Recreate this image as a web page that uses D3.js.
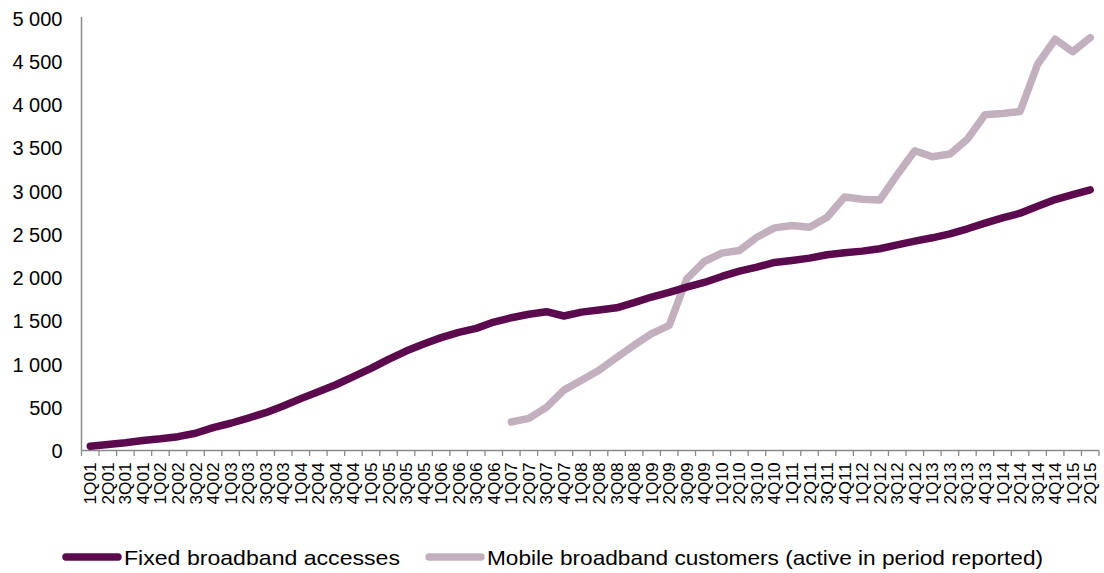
<!DOCTYPE html>
<html>
<head>
<meta charset="utf-8">
<script src="https://cdn.jsdelivr.net/npm/d3@7"></script>
<style>
  html, body { margin: 0; padding: 0; background: #ffffff; }
  svg { display: block; font-family: "Liberation Sans", Arial, sans-serif; }
</style>
</head>
<body>
<svg id="chart" width="1104" height="573"></svg>
<script>
const quarters = [
  "1Q01","2Q01","3Q01","4Q01","1Q02","2Q02","3Q02","4Q02",
  "1Q03","2Q03","3Q03","4Q03","1Q04","2Q04","3Q04","4Q04",
  "1Q05","2Q05","3Q05","4Q05","1Q06","2Q06","3Q06","4Q06",
  "1Q07","2Q07","3Q07","4Q07","1Q08","2Q08","3Q08","4Q08",
  "1Q09","2Q09","3Q09","4Q09","1Q10","2Q10","3Q10","4Q10",
  "1Q11","2Q11","3Q11","4Q11","1Q12","2Q12","3Q12","4Q12",
  "1Q13","2Q13","3Q13","4Q13","1Q14","2Q14","3Q14","4Q14",
  "1Q15","2Q15"
];

const fixedBroadband = [
  50, 70, 90, 115, 135, 160, 200, 265,
  315, 375, 437, 515, 600, 680, 760, 853,
  950, 1054, 1150, 1231, 1305, 1366, 1412, 1485,
  1535, 1575, 1605, 1555, 1600, 1625, 1650, 1709,
  1774, 1828, 1889, 1943, 2012, 2073, 2120, 2174,
  2197, 2224, 2263, 2285, 2305, 2332, 2378, 2420,
  2459, 2505, 2563, 2628, 2690, 2743, 2824, 2901,
  2959, 3013
];

const mobileBroadband = [
  null, null, null, null, null, null, null, null,
  null, null, null, null, null, null, null, null,
  null, null, null, null, null, null, null, null,
  330, 371, 498, 698, 813, 928, 1075, 1217,
  1352, 1447, 1985, 2185, 2282, 2312, 2466, 2574,
  2601, 2582, 2697, 2930, 2905, 2895, 3188, 3465,
  3396, 3427, 3600, 3881, 3896, 3919, 4465, 4754,
  4610, 4773
];

const yTicks = [0, 500, 1000, 1500, 2000, 2500, 3000, 3500, 4000, 4500, 5000];

const seriesNames = ["Fixed broadband accesses", "Mobile broadband customers (active in period reported)"];
const seriesColors = ["#5c0a4e", "#c3b0bf"];

const svg = d3.select("#chart");
const plotLeft = 81.5, plotRight = 1099, plotTop = 18, plotBottom = 450.5;

const x = d3.scaleBand().domain(quarters).range([plotLeft, plotRight]).paddingInner(0).paddingOuter(0);
const y = d3.scaleLinear().domain([0, 5000]).range([plotBottom, plotTop]);

const axisColor = "#8a8a8a";

// Y axis (line only, labels on the left)
const yAxis = svg.append("g")
  .attr("transform", `translate(${plotLeft},0)`)
  .call(d3.axisLeft(y).tickValues(yTicks).tickSize(0).tickPadding(19)
    .tickFormat(d => d3.format(",")(d).replace(/,/g, " ")));
yAxis.select(".domain").attr("stroke", axisColor).attr("stroke-width", 1.5).attr("d", `M0,${plotTop - 1}V${plotBottom}`);
yAxis.selectAll("text").attr("font-size", 20).attr("fill", "#000").attr("font-family", "'Liberation Sans', Arial, sans-serif").attr("dy", "0.36em");

// X axis: line and boundary ticks
const xAxis = svg.append("g").attr("transform", `translate(0,${plotBottom})`);
xAxis.append("line").attr("x1", plotLeft).attr("x2", plotRight).attr("y1", 0).attr("y2", 0)
  .attr("stroke", axisColor).attr("stroke-width", 1.5);
const bounds = quarters.map(q => x(q)).concat([x(quarters[quarters.length - 1]) + x.bandwidth()]);
xAxis.selectAll("line.tk").data(bounds).enter().append("line").attr("class", "tk")
  .attr("x1", d => d).attr("x2", d => d).attr("y1", 0).attr("y2", 5.5)
  .attr("stroke", axisColor).attr("stroke-width", 1.3);
xAxis.selectAll("text").data(quarters).enter().append("text")
  .attr("transform", d => `translate(${x(d) + x.bandwidth() / 2 + 6},12) rotate(-90)`)
  .attr("text-anchor", "end")
  .attr("font-size", 17)
  .attr("textLength", 42)
  .attr("lengthAdjust", "spacingAndGlyphs")
  .attr("fill", "#000")
  .text(d => d);

// Lines
const cx = d => x(d) + x.bandwidth() / 2;
const line = d3.line()
  .defined(d => d.v !== null)
  .x(d => cx(d.q))
  .y(d => y(d.v));

[mobileBroadband, fixedBroadband].forEach((vals, k) => {
  const idx = k === 0 ? 1 : 0;
  svg.append("path")
    .datum(quarters.map((q, i) => ({ q, v: vals[i] })))
    .attr("fill", "none")
    .attr("stroke", seriesColors[idx])
    .attr("stroke-width", 7.5)
    .attr("stroke-linejoin", "round")
    .attr("stroke-linecap", "round")
    .attr("d", line);
});

// Legend
const legend = [
  { name: seriesNames[0], color: seriesColors[0], x1: 66, x2: 118, tx: 124, tl: 276 },
  { name: seriesNames[1], color: seriesColors[1], x1: 429, x2: 481, tx: 487, tl: 556 }
];
const ly = 557;
legend.forEach(l => {
  svg.append("line").attr("x1", l.x1).attr("x2", l.x2).attr("y1", ly).attr("y2", ly)
    .attr("stroke", l.color).attr("stroke-width", 7.5).attr("stroke-linecap", "round");
  svg.append("text").attr("x", l.tx).attr("y", ly + 7.5)
    .attr("font-size", 21).attr("fill", "#000")
    .attr("textLength", l.tl).attr("lengthAdjust", "spacingAndGlyphs")
    .text(l.name);
});
</script>
</body>
</html>
